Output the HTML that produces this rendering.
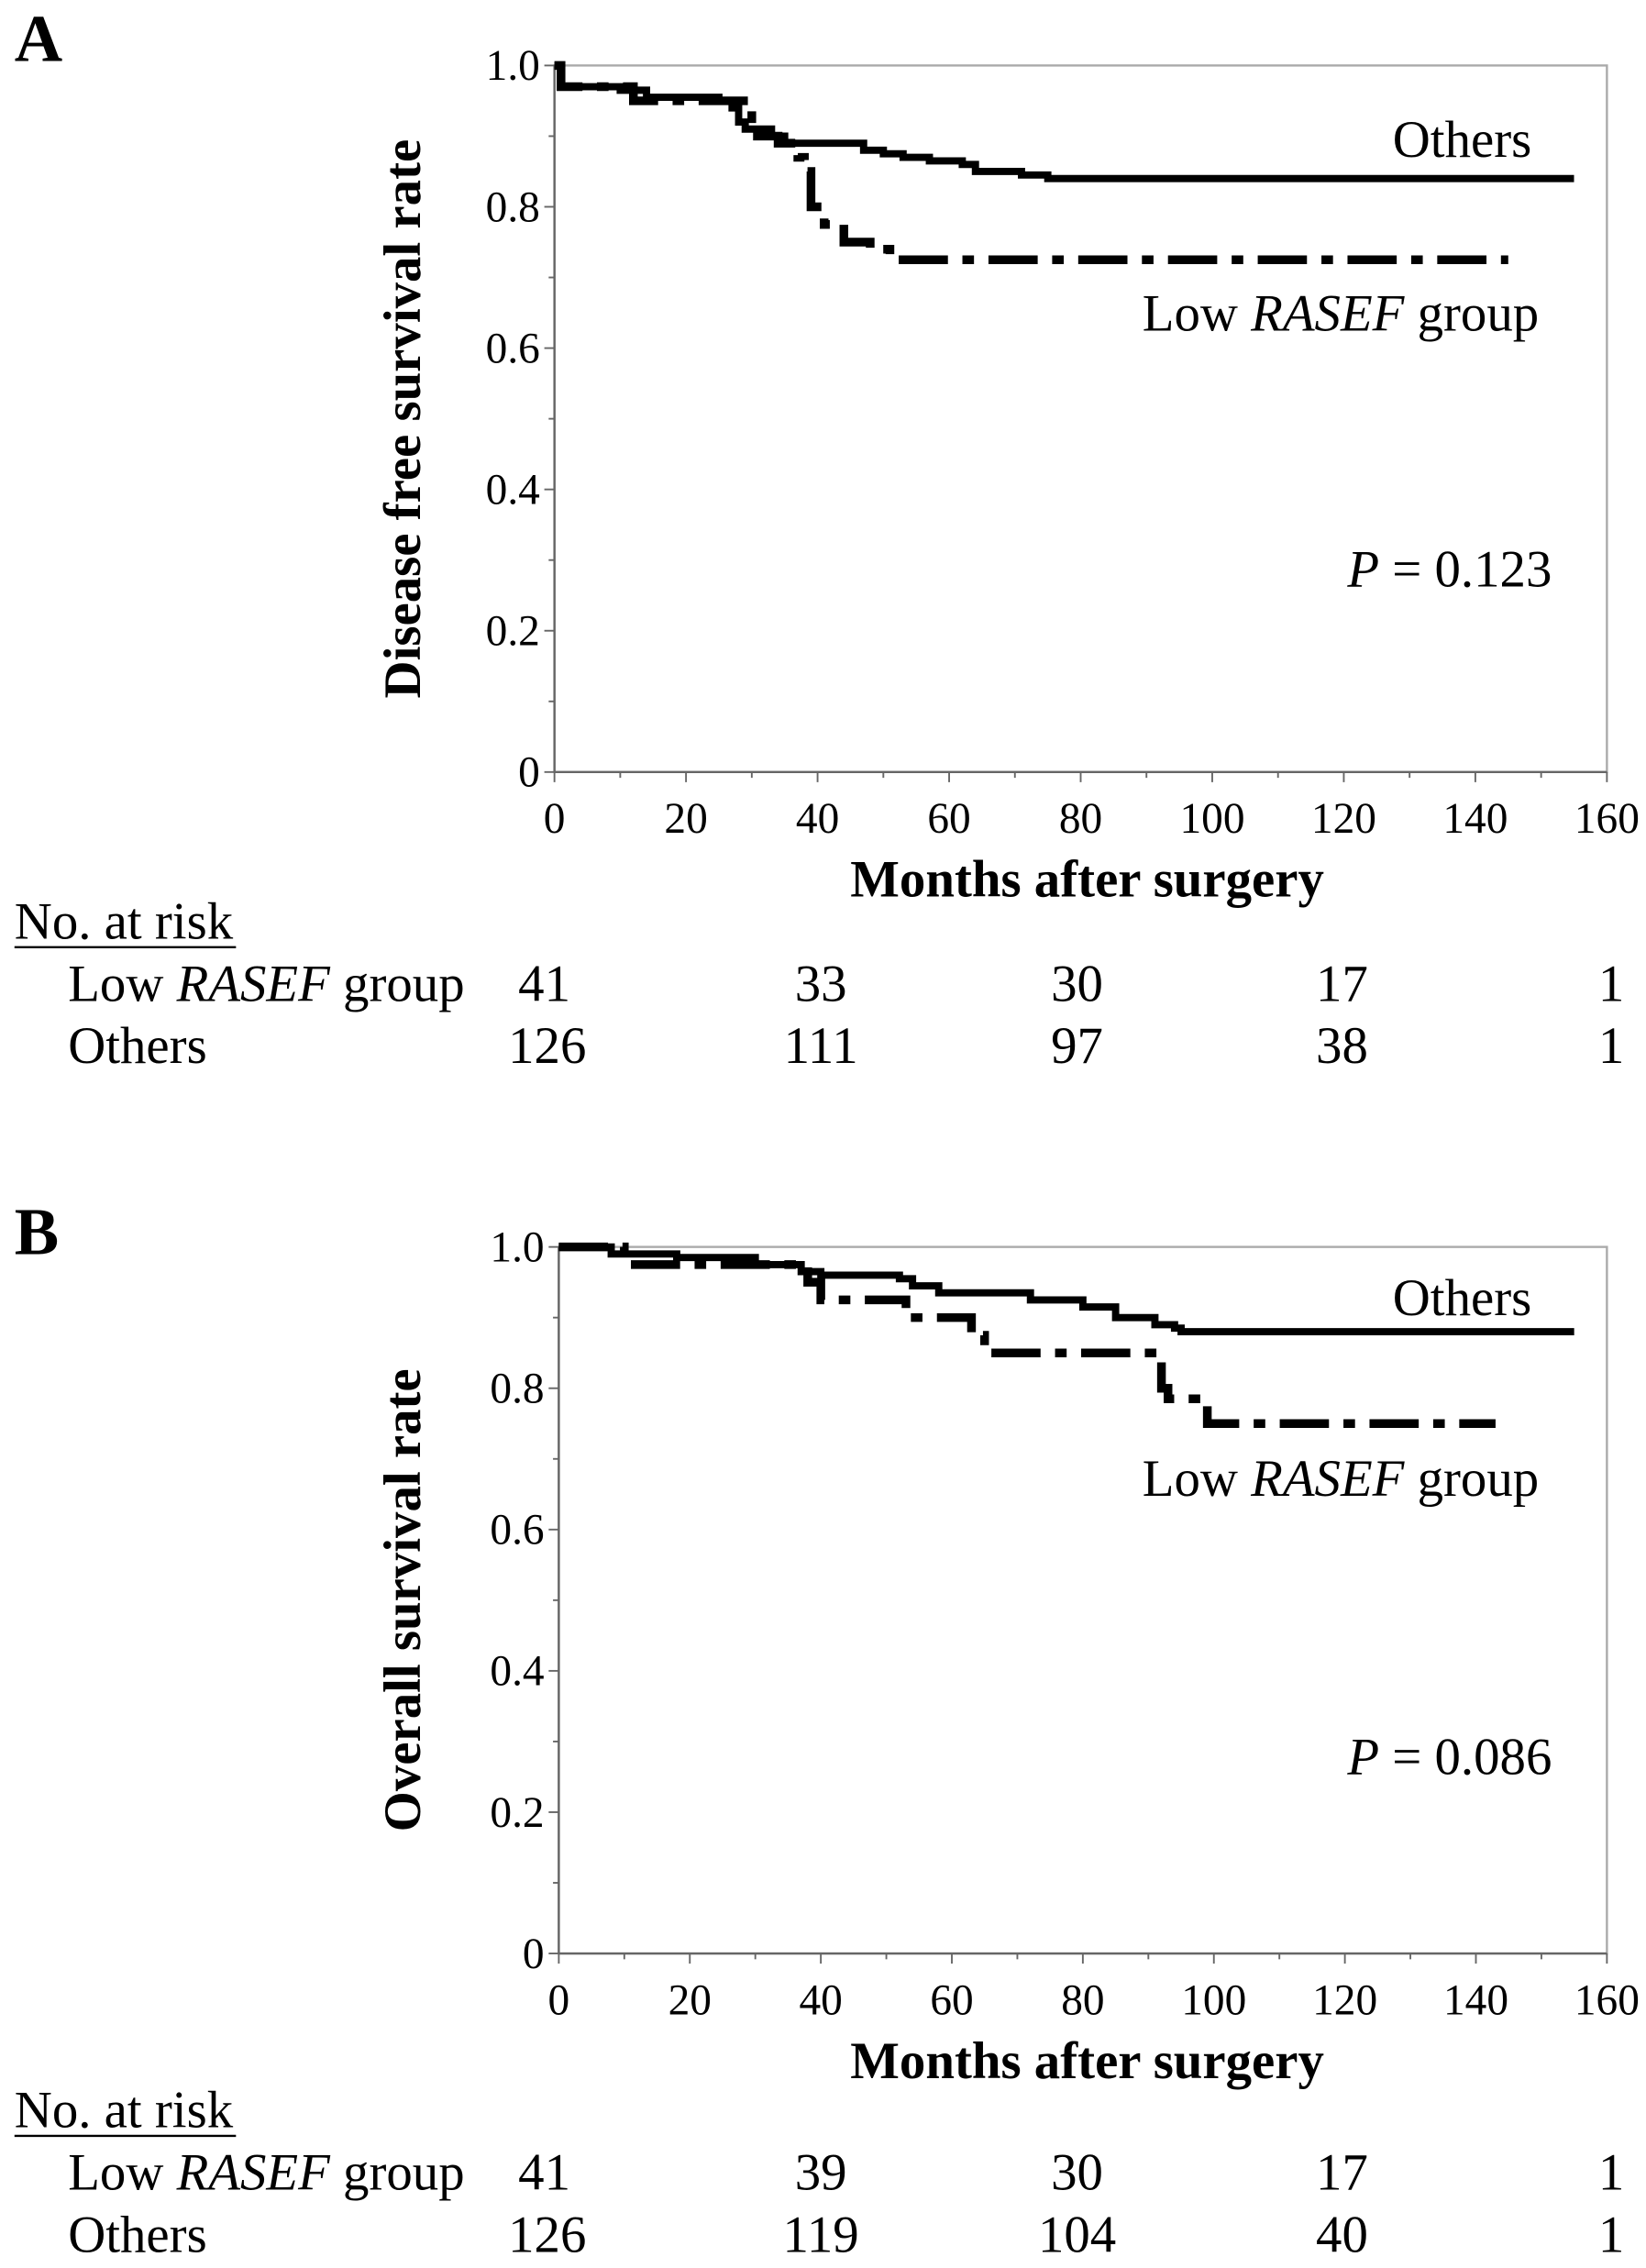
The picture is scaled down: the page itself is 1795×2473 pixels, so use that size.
<!DOCTYPE html>
<html><head><meta charset="utf-8"><style>
html,body{margin:0;padding:0;background:#fff}
svg{display:block}
text{font-family:"Liberation Serif",serif;fill:#000}
</style></head><body>
<svg id="fig" width="1795" height="2473" viewBox="0 0 1137 1566" xmlns="http://www.w3.org/2000/svg"></svg>
<script>
const xTicks=[0,20,40,60,80,100,120,140,160];
const yTicks=[0,0.2,0.4,0.6,0.8,1.0];
const yTickLabels=["0","0.2","0.4","0.6","0.8","1.0"];
// Panel A data (months, survival)
const aOthersX=[0,1,10,14,25,27,28,29,33,35,47,50,53,57,62,64,71,75,155];
const aOthersY=[1.0,0.97,0.965,0.955,0.95,0.94,0.92,0.91,0.90,0.89,0.88,0.875,0.87,0.865,0.86,0.85,0.845,0.84,0.84];
const aLowX=[0,1,12,28,30,34,37,38,39,41,44,48,51,145];
const aLowY=[1.0,0.97,0.95,0.95,0.90,0.89,0.87,0.85,0.80,0.775,0.75,0.74,0.725,0.725];
const aRiskLow=["41","33","30","17","1"];
const aRiskOthers=["126","111","97","38","1"];
// Panel B data
const bOthersX=[0,8,18,30,37,40,52,54,58,72,80,85,91,94,95,155];
const bOthersY=[1.0,0.99,0.985,0.975,0.965,0.96,0.955,0.945,0.935,0.925,0.915,0.90,0.89,0.885,0.88,0.88];
const bLowX=[0,10,38,40,53,63,65,92,93,99,143];
const bLowY=[1.0,0.975,0.95,0.925,0.90,0.875,0.85,0.80,0.785,0.75,0.75];
const bRiskLow=["41","39","30","17","1"];
const bRiskOthers=["126","119","104","40","1"];

const svg=document.getElementById('fig');
const NS="http://www.w3.org/2000/svg";
function el(tag,attrs,parent){const e=document.createElementNS(NS,tag);for(const k in attrs)e.setAttribute(k,attrs[k]);(parent||svg).appendChild(e);return e;}
function txt(s,attrs,parent){const t=el('text',attrs,parent);t.textContent=s;return t;}
const LF=36, TF=30;

function panel(o){
  const g=el('g',{});
  
  
  const X=v=>o.x0+(o.x1-o.x0)*v/160;
  const Y=v=>o.y0+(o.yTop-o.y0)*v;
  const lab=txt(o.letter,{x:10,y:o.letterY,'font-size':46,'font-weight':'bold'},g);
  
  
  const fr=el('rect',{x:X(0),y:Y(1),width:X(160)-X(0),height:Y(0)-Y(1),fill:'none',stroke:'#aaa','stroke-width':1.5},g);
  
  
  el('line',{x1:X(0),y1:Y(0),x2:X(160),y2:Y(0),stroke:'#666','stroke-width':1.5},g);
  el('line',{x1:X(0),y1:Y(0),x2:X(0),y2:Y(1),stroke:'#666','stroke-width':1.5},g);
  for(let m=0;m<=160;m+=10){el('line',{x1:X(m),y1:Y(0),x2:X(m),y2:Y(0)+(m%20?4:7),stroke:'#666','stroke-width':1.2},g);}
  for(let k=0;k<=10;k++){const v=k/10;el('line',{x1:X(0),y1:Y(v),x2:X(0)-(k%2?4:7),y2:Y(v),stroke:'#666','stroke-width':1.2},g);}
  xTicks.forEach(m=>{const t=txt(String(m),{x:X(m),y:Y(0)+42,'font-size':TF,'text-anchor':'middle'},g);
    
    });
  yTicks.forEach((v,i)=>{const t=txt(yTickLabels[i],{x:X(0)-10,y:Y(v)+10,'font-size':TF,'text-anchor':'end'},g);
    
    });
  const cy=(Y(0)+Y(1))/2;
  const yt=txt(o.ytitle,{x:0,y:0,'font-size':LF,'font-weight':'bold','text-anchor':'middle',transform:`translate(290,${cy}) rotate(-90)`},g);
  
  
  const xt=txt('Months after surgery',{x:751,y:Y(0)+86,'font-size':LF,'font-weight':'bold','text-anchor':'middle'},g);
  
  
  function step(xs,ys){let d=`M${X(xs[0])},${Y(ys[0])}`;for(let i=1;i<xs.length;i++){d+=` H${X(xs[i])} V${Y(ys[i])}`;}return d;}
  const po=el('path',{d:step(o.othersX,o.othersY),fill:'none',stroke:'#000','stroke-width':5},g);
  
  
  const pl=el('path',{d:step(o.lowX,o.lowY),fill:'none',stroke:'#000','stroke-width':6,'stroke-dasharray':'34,10,8,10'},g);
  
  
  const lo=txt('Others',{x:1058,y:o.othersLabY,'font-size':LF,'text-anchor':'end'},g);
  
  
  const ll=el('text',{x:1063,y:o.lowLabY,'font-size':LF,'text-anchor':'end'},g);
  ll.innerHTML='Low <tspan font-style="italic">RASEF</tspan> group';
  
  
  const pv=el('text',{x:1072,y:o.pY,'font-size':LF,'text-anchor':'end'},g);
  pv.innerHTML='<tspan font-style="italic">P</tspan> = '+o.p;
  
  
  const nr=txt('No. at risk',{x:10,y:o.riskY,'font-size':LF},g);
  
  
  el('line',{x1:10,y1:o.riskY+6,x2:163,y2:o.riskY+6,stroke:'#000','stroke-width':1.5},g);
  const r1=el('text',{x:47,y:o.riskY+43,'font-size':LF},g);
  r1.innerHTML='Low <tspan font-style="italic">RASEF</tspan> group';
  
  
  const r2=txt('Others',{x:47,y:o.riskY+86,'font-size':LF},g);
  
  
  const cols=[376,567,744,927,1122];
  o.riskLow.forEach((s,i)=>{const t=txt(s,{x:cols[i],y:o.riskY+43,'font-size':LF,'text-anchor':i==4?'end':'middle'},g);
    
    });
  o.riskOthers.forEach((s,i)=>{const t=txt(s,{x:i==0?378:cols[i],y:o.riskY+86,'font-size':LF,'text-anchor':i==4?'end':'middle'},g);
    
    });
}
panel({name:'panel-a',letter:'A',letterY:42,x0:383,x1:1110,y0:533,yTop:45,
  ytitle:'Disease free survival rate',othersX:aOthersX,othersY:aOthersY,lowX:aLowX,lowY:aLowY,
  othersLabY:108,lowLabY:228,pY:405,p:'0.123',riskY:648,riskLow:aRiskLow,riskOthers:aRiskOthers});
panel({name:'panel-b',letter:'B',letterY:866,x0:386,x1:1110,y0:1349,yTop:861,
  ytitle:'Overall survival rate',othersX:bOthersX,othersY:bOthersY,lowX:bLowX,lowY:bLowY,
  othersLabY:908,lowLabY:1033,pY:1225,p:'0.086',riskY:1469,riskLow:bRiskLow,riskOthers:bRiskOthers});
</script>
</body></html>
